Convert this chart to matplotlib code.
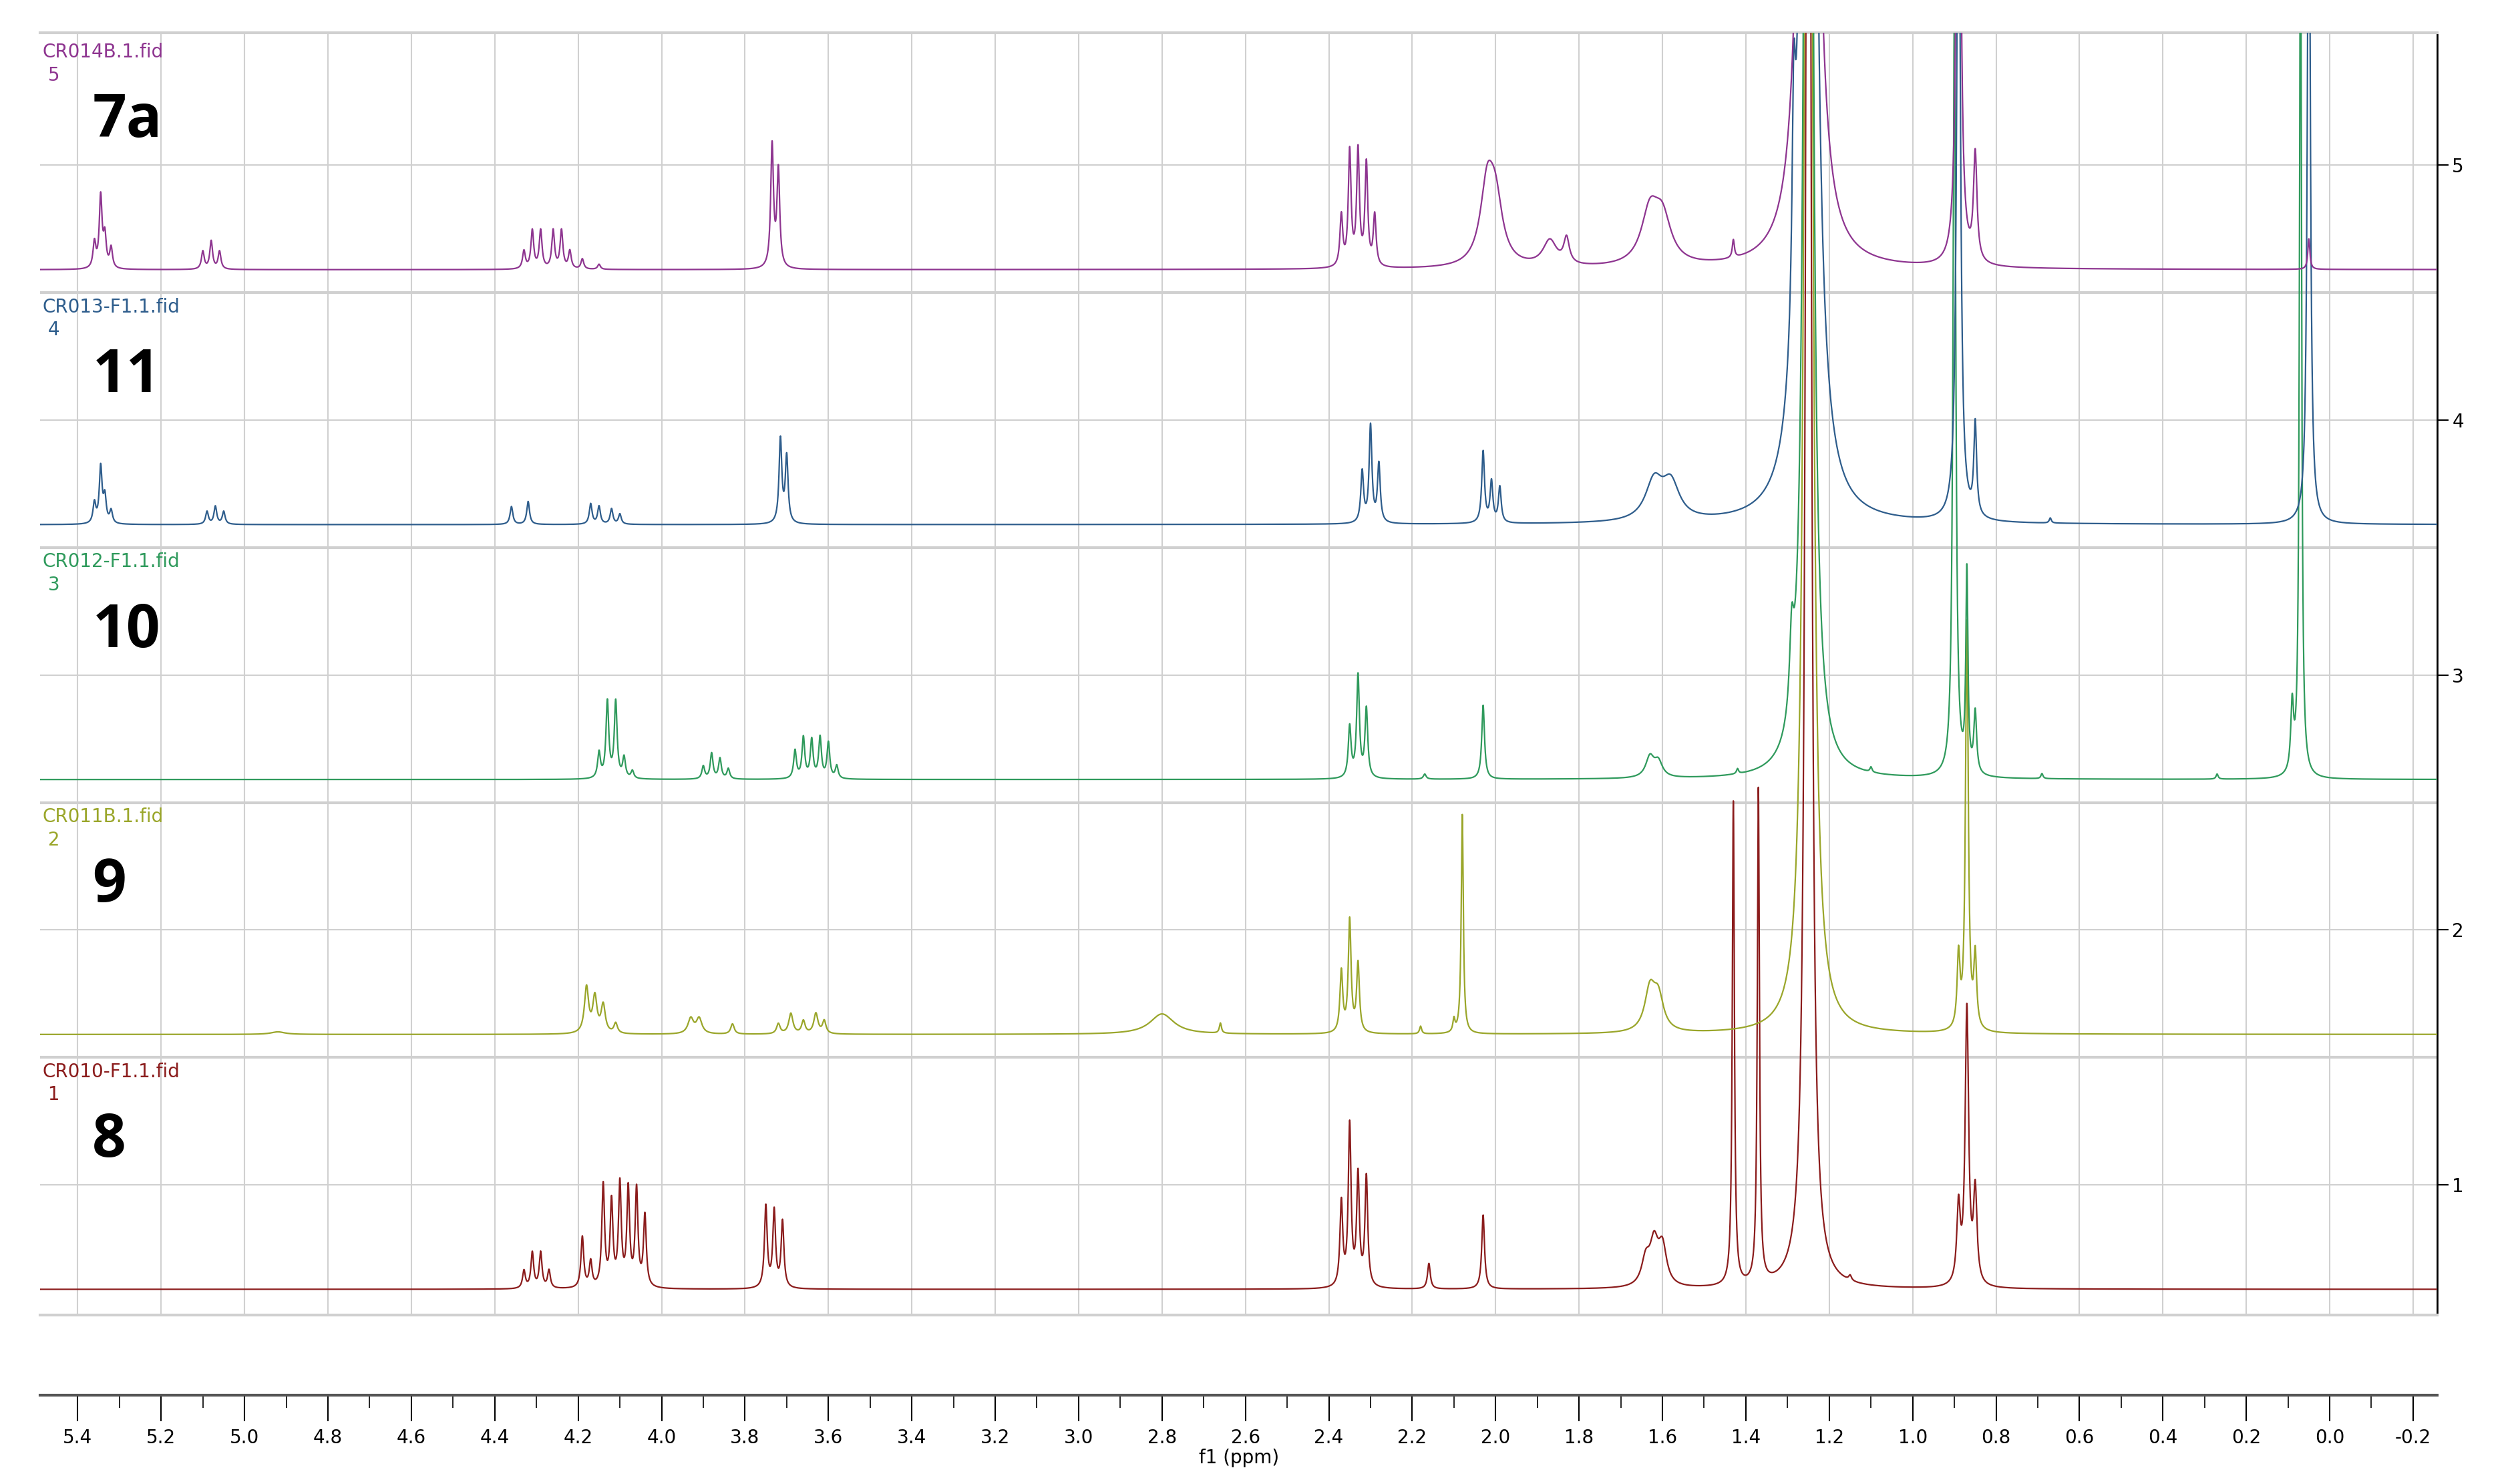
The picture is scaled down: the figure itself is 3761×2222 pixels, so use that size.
import numpy as np
import matplotlib.pyplot as plt

# peak lists (ppm, height above baseline, half width)
names = ["CR010-F1.1.fid", "CR011B.1.fid", "CR012-F1.1.fid", "CR013-F1.1.fid", "CR014B.1.fid"]
compounds = ["8", "9", "10", "11", "7a"]
colors = ["#8b1c1c", "#9aa62a", "#2f9a5c", "#2e5d8c", "#8e3590"]
baselines = [0.59, 1.59, 2.59, 3.59, 4.59]

ppm_1 = [4.33, 4.31, 4.29, 4.27, 4.19, 4.17, 4.14, 4.12, 4.10, 4.08, 4.06, 4.04,
         3.75, 3.73, 3.71, 2.37, 2.35, 2.33, 2.31, 2.16, 2.03, 1.64, 1.62, 1.60,
         1.43, 1.37, 1.25, 1.15, 0.89, 0.87, 0.85]
height_1 = [0.07, 0.14, 0.14, 0.07, 0.2, 0.1, 0.4, 0.33, 0.4, 0.38, 0.38, 0.28,
            0.32, 0.3, 0.26, 0.33, 0.63, 0.43, 0.43, 0.1, 0.29, 0.1, 0.16, 0.15,
            1.9, 1.94, 10, 0.02, 0.3, 1.08, 0.36]
width_1 = [0.004] * 21 + [0.012, 0.012, 0.012, 0.003, 0.003, 0.006, 0.004, 0.005, 0.005, 0.005]

ppm_2 = [4.92, 4.18, 4.16, 4.14, 4.11, 3.93, 3.91, 3.83, 3.72, 3.69, 3.66, 3.63, 3.61,
         2.80, 2.66, 2.37, 2.35, 2.33, 2.18, 2.10, 2.08, 1.63, 1.61, 1.25, 0.89, 0.87, 0.85]
height_2 = [0.01, 0.18, 0.14, 0.11, 0.04, 0.06, 0.06, 0.04, 0.04, 0.08, 0.05, 0.08, 0.05,
            0.08, 0.04, 0.24, 0.44, 0.27, 0.03, 0.05, 0.86, 0.16, 0.13, 10, 0.28, 1.6, 0.28]
width_2 = [0.02, 0.006, 0.006, 0.006, 0.005, 0.008, 0.008, 0.005, 0.005, 0.006, 0.005, 0.006, 0.005,
           0.035, 0.003, 0.004, 0.004, 0.004, 0.003, 0.003, 0.003, 0.015, 0.015, 0.008, 0.004, 0.004, 0.004]

ppm_3 = [4.15, 4.13, 4.11, 4.09, 4.07, 3.90, 3.88, 3.86, 3.84, 3.68, 3.66, 3.64, 3.62,
         3.60, 3.58, 2.35, 2.33, 2.31, 2.17, 2.03, 1.63, 1.61, 1.42, 1.29, 1.25, 1.10,
         0.90, 0.87, 0.85, 0.69, 0.27, 0.09, 0.07]
height_3 = [0.1, 0.3, 0.3, 0.08, 0.03, 0.05, 0.1, 0.08, 0.04, 0.11, 0.16, 0.15, 0.16,
            0.14, 0.05, 0.2, 0.4, 0.27, 0.02, 0.29, 0.08, 0.06, 0.02, 0.3, 10, 0.02,
            3.0, 0.78, 0.24, 0.02, 0.02, 0.26, 3.5]
width_3 = [0.004] * 20 + [0.012, 0.012, 0.003, 0.006, 0.008, 0.003,
           0.004, 0.003, 0.004, 0.003, 0.003, 0.004, 0.003]

ppm_4 = [5.36, 5.345, 5.335, 5.32, 5.09, 5.07, 5.05, 4.36, 4.32, 4.17, 4.15, 4.12, 4.10,
         3.715, 3.70, 2.32, 2.30, 2.28, 2.03, 2.01, 1.99, 1.62, 1.58, 1.285, 1.25,
         0.89, 0.85, 0.67, 0.05]
height_4 = [0.08, 0.22, 0.1, 0.05, 0.05, 0.07, 0.05, 0.07, 0.09, 0.08, 0.07, 0.06, 0.04,
            0.33, 0.26, 0.2, 0.38, 0.23, 0.28, 0.16, 0.14, 0.15, 0.14, 0.8, 12,
            3.0, 0.36, 0.02, 3.0]
width_4 = [0.004] * 21 + [0.025, 0.025, 0.005, 0.011, 0.005, 0.004, 0.003, 0.004]

ppm_5 = [5.36, 5.345, 5.335, 5.32, 5.10, 5.08, 5.06, 4.33, 4.31, 4.29, 4.26, 4.24, 4.22,
         4.19, 4.15, 3.735, 3.72, 2.37, 2.35, 2.33, 2.31, 2.29, 2.02, 2.00, 1.87, 1.83,
         1.63, 1.60, 1.43, 1.25, 0.89, 0.85, 0.05]
height_5 = [0.1, 0.28, 0.12, 0.08, 0.07, 0.11, 0.07, 0.07, 0.15, 0.15, 0.15, 0.15, 0.07,
            0.04, 0.02, 0.48, 0.38, 0.2, 0.45, 0.45, 0.4, 0.2, 0.3, 0.22, 0.1, 0.1,
            0.2, 0.17, 0.07, 11, 3.0, 0.42, 0.12]
width_5 = [0.004] * 22 + [0.02, 0.02, 0.02, 0.008, 0.025, 0.025, 0.003, 0.011, 0.005, 0.005, 0.003]

peaks = [(ppm_1, height_1, width_1), (ppm_2, height_2, width_2), (ppm_3, height_3, width_3),
         (ppm_4, height_4, width_4), (ppm_5, height_5, width_5)]

x = np.linspace(5.5, -0.27, 30000)

fig = plt.figure(figsize=(37.62, 22.22), dpi=100)
ax = fig.add_axes([0.016, 0.114, 0.954, 0.864])

for i in range(5):
    pos, hts, wid = peaks[i]
    y = np.zeros_like(x)
    for p, h, w in zip(pos, hts, wid):
        y += h * w ** 2 / ((x - p) ** 2 + w ** 2)
    ax.plot(x, y + baselines[i], color=colors[i], lw=1.6, zorder=3)
    top = baselines[i] - 0.09 + 1.0
    ax.text(5.485, top - 0.02, names[i], color=colors[i], fontsize=20, va="top", ha="left")
    ax.text(5.485, top - 0.11, " " + str(i + 1), color=colors[i], fontsize=20, va="top", ha="left")
    ax.text(5.365, top - 0.33, compounds[i], color="black", fontsize=64, fontweight="bold",
            va="center", ha="left", family="Open Sans")

ax.set_xlim(5.49, -0.258)
ax.set_ylim(0.49, 5.52)
ax.set_xticks(np.arange(-0.2, 5.41, 0.2))
ax.set_yticks([1, 2, 3, 4, 5])
ax.grid(True, color="#d0d0d0", lw=1.5)
for sep in [1.5, 2.5, 3.5, 4.5]:
    ax.axhline(sep, color="#d0d0d0", lw=3, zorder=1)
ax.tick_params(axis="x", bottom=False, labelbottom=False)
ax.yaxis.tick_right()
ax.tick_params(axis="y", length=12, width=1.5, labelsize=20, pad=4)
ax.spines["left"].set_visible(False)
ax.spines["top"].set_color("#d0d0d0")
ax.spines["top"].set_linewidth(3)
ax.spines["bottom"].set_color("#d0d0d0")
ax.spines["bottom"].set_linewidth(3)
ax.spines["right"].set_linewidth(2)

# separate ppm scale below the spectra
sx = fig.add_axes([0.016, 0.06, 0.954, 0.0001])
sx.set_xlim(5.49, -0.258)
sx.set_xticks(np.arange(-0.2, 5.41, 0.2))
sx.set_xticks(np.arange(-0.2, 5.41, 0.1), minor=True)
sx.set_xticklabels(["%.1f" % v for v in np.arange(-0.2, 5.41, 0.2)])
sx.set_yticks([])
for s in ["left", "right", "top"]:
    sx.spines[s].set_visible(False)
sx.spines["bottom"].set_linewidth(3)
sx.spines["bottom"].set_color("#555555")
sx.tick_params(axis="x", which="major", length=28, width=1.5, labelsize=20, pad=8)
sx.tick_params(axis="x", which="minor", length=14, width=1.2)
sx.set_xlabel("f1 (ppm)", fontsize=20, labelpad=2)

fig.savefig("out.png", dpi=100)
